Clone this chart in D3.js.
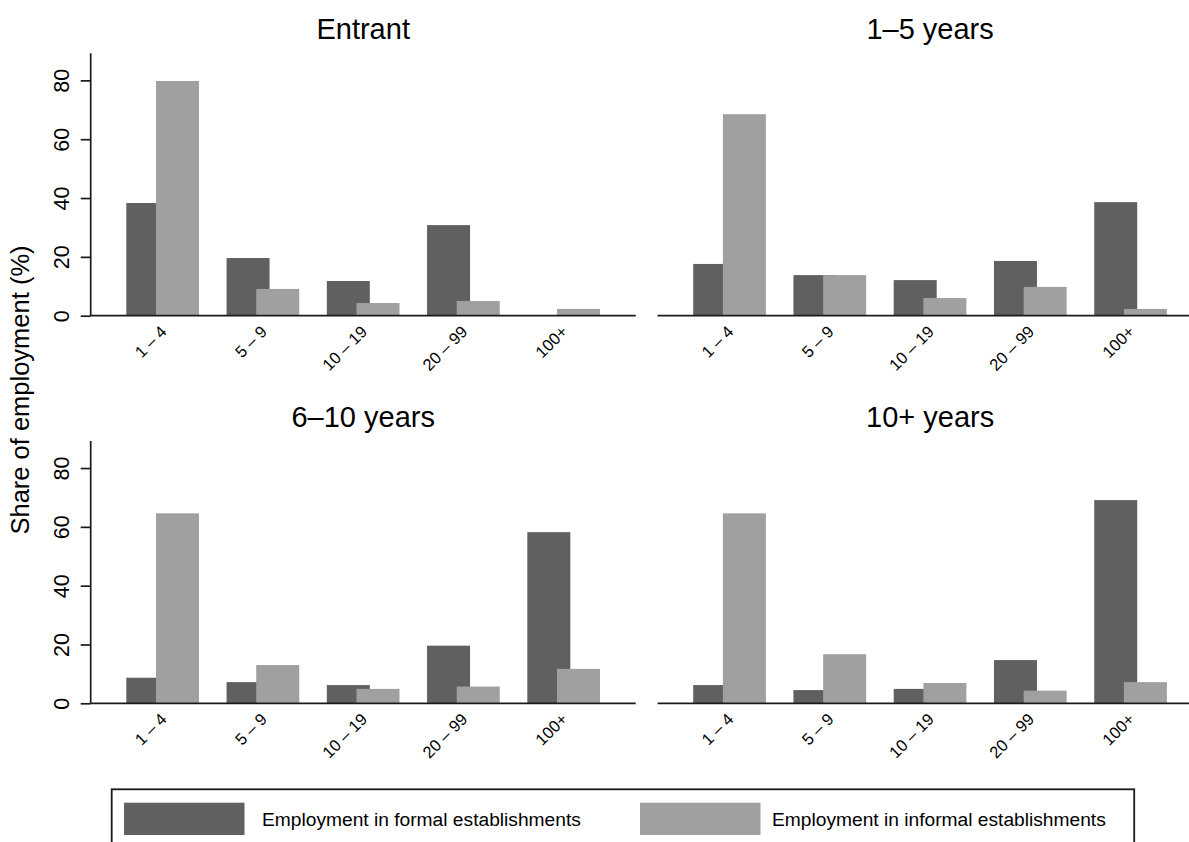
<!DOCTYPE html>
<html>
<head>
<meta charset="utf-8">
<script src="https://cdn.jsdelivr.net/npm/d3@7"></script>
<style>
  html, body { margin: 0; padding: 0; background: #fff; }
  svg { display: block; font-family: "Liberation Sans", Arial, Helvetica, sans-serif; }
</style>
</head>
<body>
<svg id="chart" width="1189" height="842"></svg>
<script>
// ---------- data ----------
const categories = ["1 \u2013 4", "5 \u2013 9", "10 \u2013 19", "20 \u2013 99", "100+"];
const panelTitles = ["Entrant", "1\u20135 years", "6\u201310 years", "10+ years"];
const formalEntrant   = [38.3, 19.6, 11.8, 30.8, 0];
const informalEntrant = [79.8, 9.1, 4.3, 5.0, 2.3];
const formal1to5      = [17.6, 13.8, 12.1, 18.6, 38.6];
const informal1to5    = [68.5, 13.8, 6.0, 9.8, 2.3];
const formal6to10     = [8.7, 7.2, 6.2, 19.6, 58.2];
const informal6to10   = [64.6, 13.0, 4.9, 5.7, 11.7];
const formal10plus    = [6.2, 4.5, 4.9, 14.7, 69.1];
const informal10plus  = [64.6, 16.7, 6.9, 4.3, 7.2];
const yTicks = [0, 20, 40, 60, 80];
const seriesNames = ["Employment in formal establishments", "Employment in informal establishments"];

const formalSeries = [formalEntrant, formal1to5, formal6to10, formal10plus];
const informalSeries = [informalEntrant, informal1to5, informal6to10, informal10plus];

// ---------- style ----------
const darkCol = "#606060";
const lightCol = "#a0a0a0";
const axisCol = "#1a1a1a";

const svg = d3.select("#chart");
svg.append("rect").attr("width", 1189).attr("height", 842).attr("fill", "#fff");

// panel geometry
const panelX = [90.7, 657.6, 90.7, 657.6];
const panelY0 = [315.7, 315.7, 703.3, 703.3];
const panelTop = [53.3, 53.3, 441, 441];
const titleY = [39.3, 39.3, 427.3, 427.3];
const plotW = 545;
const barW = 43;

panelTitles.forEach((title, p) => {
  const X0 = panelX[p];
  const isLeft = (p % 2 === 0);
  const g = svg.append("g");

  const y = d3.scaleLinear().domain([0, 89.2]).range([panelY0[p], panelTop[p]]);
  const x = d3.scaleBand().domain(categories)
    .range([X0 + 35.6, X0 + 509.3])
    .paddingInner(0.275).paddingOuter(0);
  const bw = x.bandwidth();

  // title
  g.append("text")
    .attr("x", X0 + plotW / 2).attr("y", titleY[p])
    .attr("text-anchor", "middle")
    .attr("font-size", 29).attr("fill", "#000")
    .text(title);

  // bars: formal then informal (informal on top)
  g.selectAll("rect.formal").data(formalSeries[p]).enter().append("rect")
    .attr("class", "formal")
    .attr("x", (d, i) => x(categories[i]))
    .attr("width", barW)
    .attr("y", d => y(d))
    .attr("height", d => y(0) - y(d))
    .attr("fill", darkCol);
  g.selectAll("rect.informal").data(informalSeries[p]).enter().append("rect")
    .attr("class", "informal")
    .attr("x", (d, i) => x(categories[i]) + bw - barW)
    .attr("width", barW)
    .attr("y", d => y(d))
    .attr("height", d => y(0) - y(d))
    .attr("fill", lightCol);

  // x axis line
  const xEnd = isLeft ? X0 + plotW : 1189;
  g.append("line")
    .attr("x1", X0).attr("x2", xEnd)
    .attr("y1", y(0)).attr("y2", y(0))
    .attr("stroke", axisCol).attr("stroke-width", 1.7);

  // x tick labels
  categories.forEach(c => {
    const cx = x(c) + bw / 2;
    g.append("text")
      .attr("transform", `translate(${cx + 5},${y(0) + 17}) rotate(-45)`)
      .attr("text-anchor", "end")
      .attr("font-size", 16.5).attr("fill", "#000")
      .text(c);
  });

  // y axis for left panels
  if (isLeft) {
    const yAxis = d3.axisLeft(y).tickValues(yTicks).tickSize(10).tickPadding(0).tickFormat(d3.format("d"));
    const ya = g.append("g").attr("transform", `translate(${X0},0)`).call(yAxis);
    ya.select(".domain").attr("stroke", axisCol).attr("stroke-width", 1.7)
      .attr("d", `M0,${y(0)}V${panelTop[p]}`);
    ya.selectAll(".tick line").attr("stroke", axisCol).attr("stroke-width", 1.7);
    ya.selectAll(".tick text")
      .attr("font-size", 21.5).attr("fill", "#000")
      .attr("font-family", "'Liberation Sans', Arial, sans-serif")
      .attr("x", null).attr("dy", null)
      .attr("text-anchor", "middle")
      .attr("transform", "translate(-22.2,0) rotate(-90)");
  }
});

// y axis title
svg.append("text")
  .attr("transform", "translate(29.3,390) rotate(-90)")
  .attr("text-anchor", "middle")
  .attr("font-size", 25.5).attr("fill", "#000")
  .text("Share of employment (%)");

// legend
const lg = svg.append("g");
lg.append("rect")
  .attr("x", 111.7).attr("y", 789.3).attr("width", 1022.5).attr("height", 90)
  .attr("fill", "#fff").attr("stroke", axisCol).attr("stroke-width", 1.8);
const legendSw = [124, 640];
const legendTx = [262, 772];
const legendCols = [darkCol, lightCol];
seriesNames.forEach((name, i) => {
  lg.append("rect")
    .attr("x", legendSw[i]).attr("y", 802.7).attr("width", 120.5).attr("height", 32.3)
    .attr("fill", legendCols[i]);
  lg.append("text")
    .attr("x", legendTx[i]).attr("y", 825.5)
    .attr("font-size", 19.2).attr("fill", "#000")
    .text(name);
});
</script>
</body>
</html>
